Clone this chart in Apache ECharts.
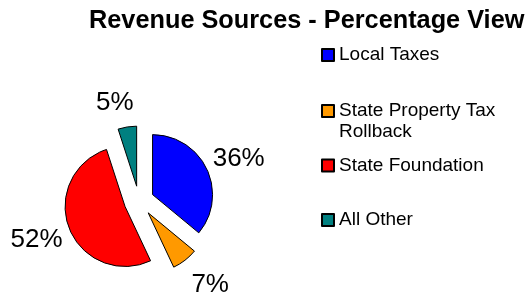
<!DOCTYPE html>
<html>
<head>
<meta charset="utf-8">
<script src="https://cdn.jsdelivr.net/npm/echarts@6/dist/echarts.min.js"></script>
<style>
html,body{margin:0;padding:0;background:#fff;}
#chart{width:527px;height:300px;}
</style>
</head>
<body>
<div id="chart"></div>
<script>
const categories = ['Local Taxes', 'State Property Tax Rollback', 'State Foundation', 'All Other'];
const values = [36, 7, 52, 5];
const colors = ['#0000FF', '#FF9900', '#FF0000', '#008080'];

const FONT = 'Liberation Sans, Arial, sans-serif';
const chart = echarts.init(document.getElementById('chart'), null, {renderer: 'canvas'});

// small per-label nudges (style only)
const labelNudge = [[2, 4], [5, -2], [-2, -1], [-8, 4]];

const legendTops = [44.5, 79.5, 155, 209.5];
const legends = categories.map((name, i) => ({
  orient: 'vertical',
  left: 321,
  top: legendTops[i],
  padding: 0,
  itemWidth: 12,
  itemHeight: 12,
  itemGap: 5,
  icon: 'rect',
  selectedMode: false,
  data: [name],
  formatter: i === 1 ? (n => '\n' + n) : (n => n),
  textStyle: {
    fontFamily: FONT,
    fontSize: 19,
    color: '#000',
    lineHeight: 21,
    width: 180,
    overflow: 'break'
  }
}));

chart.setOption({
  animation: false,
  backgroundColor: '#fff',
  title: {
    text: 'Revenue Sources - Percentage View',
    left: 84,
    top: 4,
    textStyle: {fontFamily: FONT, fontWeight: 'bold', fontSize: 25.3, color: '#000'}
  },
  legend: legends,
  series: [{
    type: 'pie',
    center: [139, 201],
    radius: 60,
    startAngle: 90,
    clockwise: true,
    selectedMode: 'multiple',
    selectedOffset: 15,
    avoidLabelOverlap: false,
    emphasis: {disabled: true},
    itemStyle: {borderColor: '#000', borderWidth: 1},
    label: {
      show: true,
      position: 'outside',
      formatter: '{c}%',
      fontFamily: FONT,
      fontSize: 26,
      color: '#000',
      distanceToLabelLine: 0
    },
    labelLine: {show: false, length: 33, length2: 0},
    labelLayout: function (p) {
      const n = labelNudge[p.dataIndex] || [0, 0];
      return {align: 'center', dx: n[0], dy: n[1]};
    },
    data: categories.map((name, i) => ({
      name: name,
      value: values[i],
      selected: true,
      itemStyle: {color: colors[i]},
      labelLine: i === 3 ? {show: false, length: 28, length2: 0} : undefined
    }))
  }]
});
</script>
</body>
</html>
